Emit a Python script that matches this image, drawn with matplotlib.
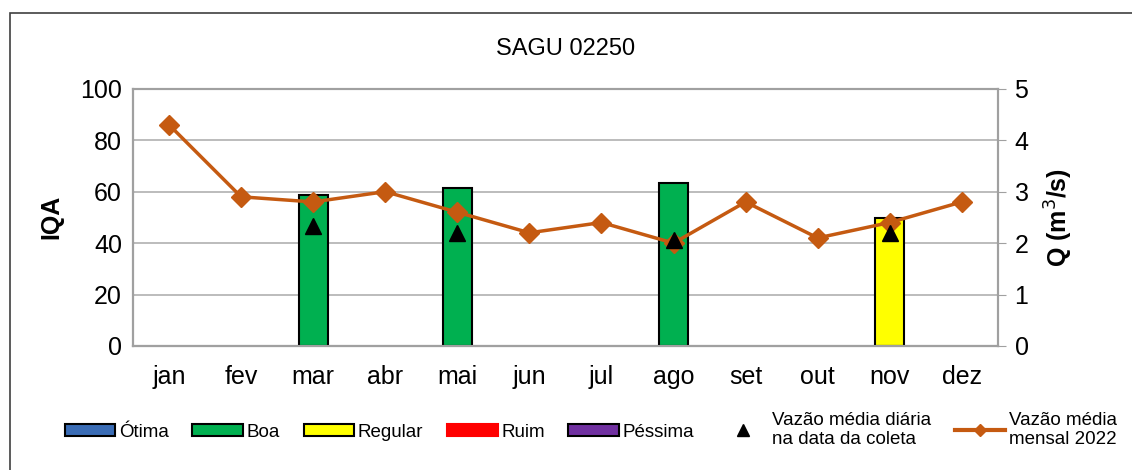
import matplotlib.pyplot as plt
import matplotlib.patches as mpatches
from matplotlib.lines import Line2D
import numpy as np

plt.rcParams['font.family'] = ['Liberation Sans', 'DejaVu Sans']

meses = ['jan', 'fev', 'mar', 'abr', 'mai', 'jun', 'jul', 'ago', 'set', 'out', 'nov', 'dez']
# IQA por mes (None = sem coleta)
iqa = [None, None, 58.6, None, 61.6, None, None, 63.3, None, None, 49.7, None]
classe = [None, None, 'Boa', None, 'Boa', None, None, 'Boa', None, None, 'Regular', None]
# vazao media diaria na data da coleta
vazao_coleta = [None, None, 2.33, None, 2.2, None, None, 2.06, None, None, 2.2, None]
# vazao media mensal 2022
vazao_mensal = [4.3, 2.9, 2.8, 3.0, 2.6, 2.2, 2.4, 2.0, 2.8, 2.1, 2.4, 2.8]

cores = {'Ótima': '#3A6CB5', 'Boa': '#00B050', 'Regular': '#FFFF00',
         'Ruim': '#FF0000', 'Péssima': '#7030A0'}
cor_linha = '#C55A11'

fig = plt.figure(figsize=(11.32, 4.70), dpi=100)
ax = fig.add_axes([0.1175, 0.264, 0.764, 0.547])
ax2 = ax.twinx()

x = np.arange(len(meses))
for i, v in enumerate(iqa):
    if v is not None:
        ax.bar(x[i], v, width=0.4, color=cores[classe[i]], edgecolor='black',
               linewidth=1.5, zorder=2)

ax.set_ylim(0, 100)
ax.set_yticks(range(0, 101, 20))
ax.set_xlim(-0.5, 11.5)
ax.set_xticks(x)
ax.set_xticklabels(meses)
ax.yaxis.grid(True, color='#B0B0B0', linewidth=1.2, zorder=0)
ax.set_axisbelow(True)
ax.tick_params(axis='both', labelsize=18, length=0, pad=8)
ax.tick_params(axis='x', pad=14)
ax.set_ylabel('IQA', fontsize=18, fontweight='bold', labelpad=12)

ax2.plot(x, vazao_mensal, color=cor_linha, linewidth=2.5, marker='D',
         markersize=10, zorder=3)
xc = [x[i] for i, v in enumerate(vazao_coleta) if v is not None]
yc = [v for v in vazao_coleta if v is not None]
ax2.plot(xc, yc, linestyle='none', marker='^', color='black', markersize=11, zorder=4)
ax2.set_ylim(0, 5)
ax2.set_yticks(range(0, 6))
ax2.tick_params(axis='y', labelsize=18, length=6, color='#A0A0A0', pad=6)
ax2.set_ylabel('Q (m$^3$/s)', fontsize=18, fontweight='bold', labelpad=10)

for a in (ax, ax2):
    for s in a.spines.values():
        s.set_color('#A0A0A0')
        s.set_linewidth(1.5)
ax.spines['left'].set_color('#606060')
ax.spines['bottom'].set_color('#404040')

fig.text(0.5, 0.895, 'SAGU 02250', ha='center', va='center', fontsize=17)

# moldura externa
fig.patches.append(mpatches.Rectangle((0.009, -0.01), 1.0, 0.983, transform=fig.transFigure,
                                      fill=False, edgecolor='#404040', linewidth=1.2))

handles = []
for nome, cor in cores.items():
    ec = cor if nome == 'Ruim' else 'black'
    handles.append(mpatches.Patch(facecolor=cor, edgecolor=ec, linewidth=1.5, label=nome))
handles.append(Line2D([], [], linestyle='none', marker='^', color='black', markersize=9,
                      label='Vazão média diária\nna data da coleta'))
handles.append(Line2D([], [], color=cor_linha, linewidth=3, marker='D', markersize=6,
                      label='Vazão média\nmensal 2022'))
fig.legend(handles=handles, loc='center', bbox_to_anchor=(0.522, 0.085), ncol=7,
           frameon=False, fontsize=13.5, handlelength=2.7, handleheight=0.6,
           handletextpad=0.2, columnspacing=1.25)

fig.savefig('out.png', dpi=100)
